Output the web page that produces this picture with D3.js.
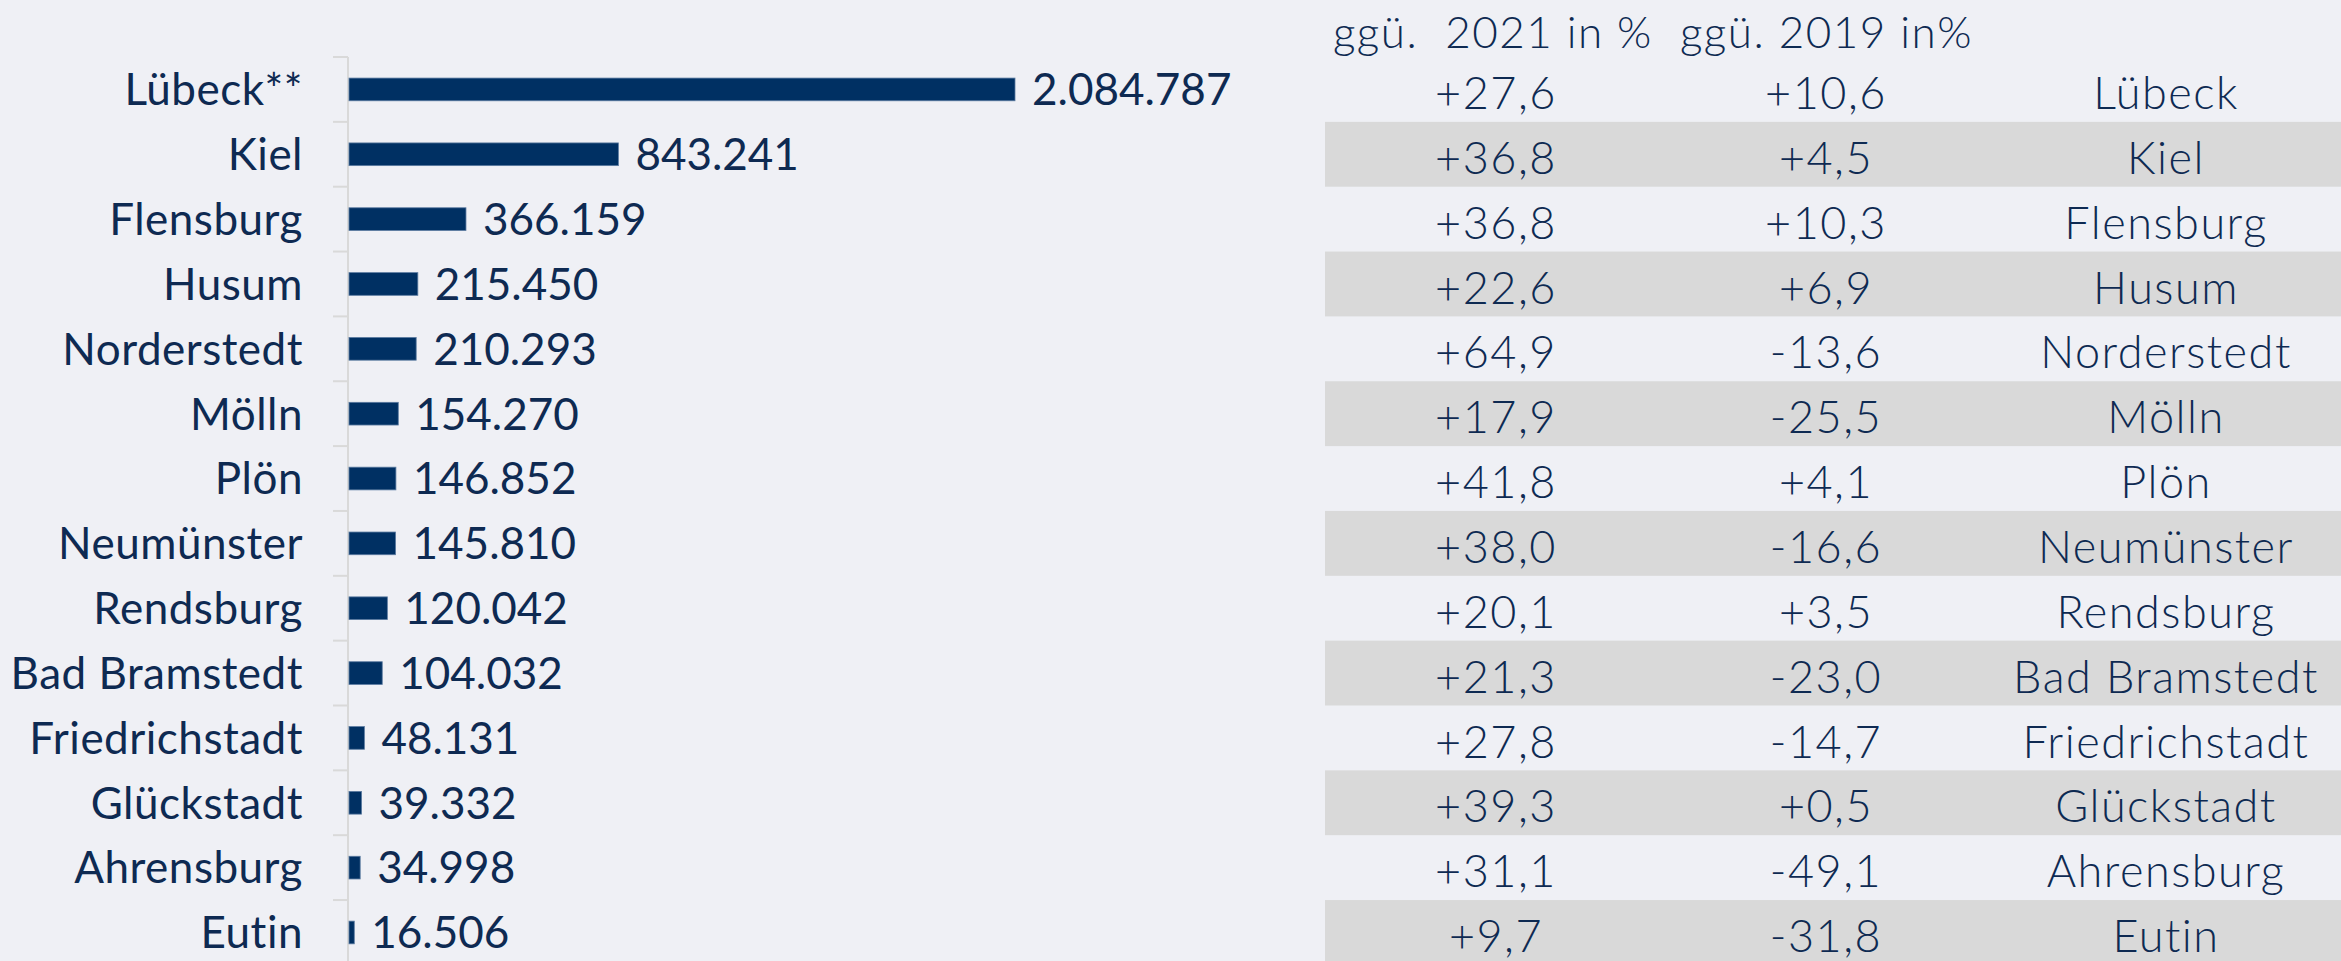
<!DOCTYPE html>
<html>
<head>
<meta charset="utf-8">
<script src="https://cdn.jsdelivr.net/npm/d3@7"></script>
<style>
  html, body { margin: 0; padding: 0; background: #eff0f5; }
  svg { display: block; }
  .lbl { font-family: Lato, "Open Sans", sans-serif; fill: #0e2a52; }
  .tbl { font-family: Lato, "Noto Sans", sans-serif; fill: #0e2a52; letter-spacing: 1.5px; font-weight: 300; }
</style>
</head>
<body>
<div id="chart"></div>
<script>
"use strict";

var cities = ["Lübeck**", "Kiel", "Flensburg", "Husum", "Norderstedt", "Mölln", "Plön",
    "Neumünster", "Rendsburg", "Bad Bramstedt", "Friedrichstadt", "Glückstadt",
    "Ahrensburg", "Eutin"];
var tableNames = ["Lübeck", "Kiel", "Flensburg", "Husum", "Norderstedt", "Mölln", "Plön",
    "Neumünster", "Rendsburg", "Bad Bramstedt", "Friedrichstadt", "Glückstadt",
    "Ahrensburg", "Eutin"];
var visitors = [2084787, 843241, 366159, 215450, 210293, 154270, 146852,
    145810, 120042, 104032, 48131, 39332, 34998, 16506];
var chg2021 = ["+27,6", "+36,8", "+36,8", "+22,6", "+64,9", "+17,9", "+41,8",
    "+38,0", "+20,1", "+21,3", "+27,8", "+39,3", "+31,1", "+9,7"];
var chg2019 = ["+10,6", "+4,5", "+10,3", "+6,9", "-13,6", "-25,5", "+4,1",
    "-16,6", "+3,5", "-23,0", "-14,7", "+0,5", "-49,1", "-31,8"];
var headers = ["ggü.  2021 in %", "ggü. 2019 in%"];

(function () {
    var width = 2341,
        height = 961,
        topY = 57,
        step = 64.85,
        axisX = 348,
        svg, x, y, fmt, axis, colX, cols;

    svg = d3.select("#chart").append("svg")
        .attr("width", width)
        .attr("height", height);

    svg.append("rect")
        .attr("width", width).attr("height", height)
        .attr("fill", "#eff0f5");

    x = d3.scaleLinear()
        .domain([0, d3.max(visitors)])
        .range([axisX + 1, 1015]);

    y = d3.scaleBand()
        .domain(cities)
        .range([topY, topY + step * cities.length])
        .paddingInner(0.65)
        .paddingOuter(0.325);

    fmt = d3.formatLocale({ decimal: ",", thousands: ".", grouping: [3], currency: ["", "€"] })
        .format(",d");

    // table stripes (every second row)
    svg.append("g").selectAll("rect")
        .data(tableNames.filter(function (d, i) { return i % 2 === 1; }))
        .enter().append("rect")
        .attr("x", 1325)
        .attr("y", function (d) { return topY + tableNames.indexOf(d) * step; })
        .attr("width", width - 1325)
        .attr("height", step)
        .attr("fill", "#d9d9d9");

    // axis line + ticks at band edges
    axis = svg.append("g").attr("stroke", "#d9d9d9").attr("stroke-width", 2);
    axis.append("line")
        .attr("x1", axisX).attr("x2", axisX)
        .attr("y1", topY).attr("y2", height);
    axis.selectAll(".tick")
        .data(d3.range(cities.length + 1))
        .enter().append("line")
        .attr("x1", axisX - 15).attr("x2", axisX)
        .attr("y1", function (i) { return topY + i * step; })
        .attr("y2", function (i) { return topY + i * step; });

    // bars
    svg.append("g").selectAll("rect")
        .data(cities)
        .enter().append("rect")
        .attr("x", x(0))
        .attr("y", function (d) { return y(d); })
        .attr("width", function (d, i) { return x(visitors[i]) - x(0); })
        .attr("height", y.bandwidth())
        .attr("fill", "#003063")
        .attr("stroke", "#5a7aa0")
        .attr("stroke-width", 0.8);

    // category labels
    svg.append("g").selectAll("text")
        .data(cities)
        .enter().append("text")
        .attr("class", "lbl")
        .attr("x", 303)
        .attr("y", function (d) { return y(d) + y.bandwidth() / 2; })
        .attr("dy", "0.36em")
        .attr("text-anchor", "end")
        .style("font-size", "44px")
        .style("letter-spacing", "0.5px")
        .text(function (d) { return d; });

    // value labels
    svg.append("g").selectAll("text")
        .data(cities)
        .enter().append("text")
        .attr("class", "lbl")
        .attr("x", function (d, i) { return x(visitors[i]) + 17; })
        .attr("y", function (d) { return y(d) + y.bandwidth() / 2; })
        .attr("dy", "0.36em")
        .style("font-size", "44px")
        .text(function (d, i) { return fmt(visitors[i]); });

    // table header
    svg.append("g").selectAll("text")
        .data(headers)
        .enter().append("text")
        .attr("class", "tbl")
        .attr("x", function (d, i) { return i === 0 ? 1333 : 1680; })
        .attr("y", 48)
        .style("font-size", "44px")
        .style("white-space", "pre")
        .text(function (d) { return d; });

    // table body
    colX = [1496, 1826, 2166];
    cols = [chg2021, chg2019, tableNames];
    cols.forEach(function (col, c) {
        svg.append("g").selectAll("text")
            .data(col)
            .enter().append("text")
            .attr("class", "tbl")
            .attr("x", colX[c])
            .attr("y", function (d, i) { return topY + i * step + 52; })
            .attr("text-anchor", "middle")
            .style("font-size", "45px")
            .text(function (d) { return d; });
    });
}());
</script>
</body>
</html>
